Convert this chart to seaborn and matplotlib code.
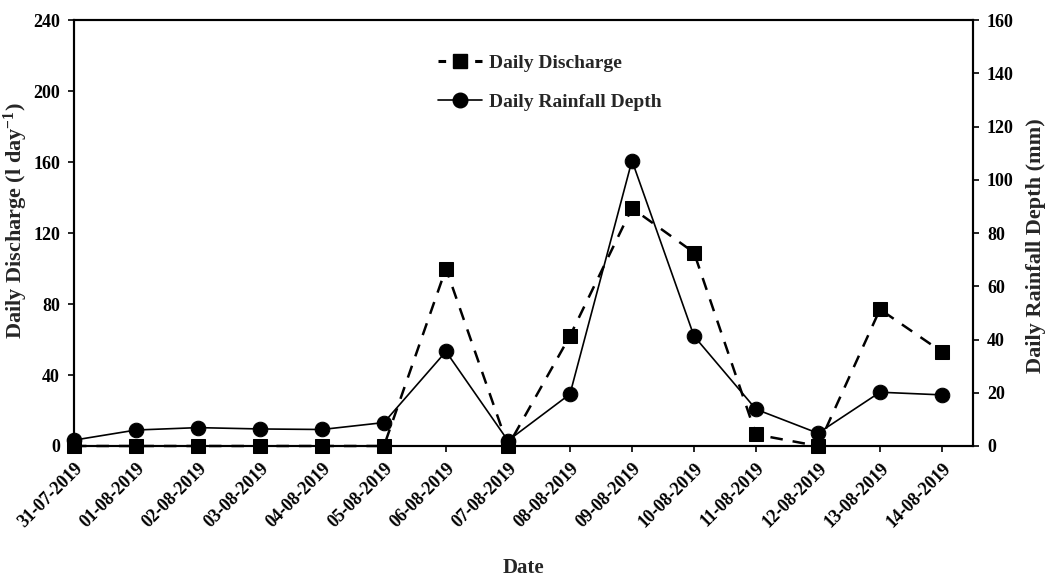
import numpy as np
import pandas as pd
import matplotlib
matplotlib.use("Agg")
import matplotlib.pyplot as plt
import seaborn as sns
from matplotlib.lines import Line2D

dates = ["31-07-2019", "01-08-2019", "02-08-2019", "03-08-2019", "04-08-2019",
         "05-08-2019", "06-08-2019", "07-08-2019", "08-08-2019", "09-08-2019",
         "10-08-2019", "11-08-2019", "12-08-2019", "13-08-2019", "14-08-2019"]
discharge = [0, 0, 0, 0, 0, 0, 100, 0, 62, 134, 109, 6.5, 0, 77, 53]
rainfall = [2.2, 6.0, 6.9, 6.4, 6.2, 8.8, 35.5, 2.0, 19.5, 107.2, 41.3, 13.8, 4.8, 20.2, 19.2]

df = pd.DataFrame({"idx": np.arange(len(dates)), "date": dates,
                   "discharge": discharge, "rainfall": rainfall})

sns.set_theme(style="ticks")
plt.rcParams["font.family"] = ["Liberation Serif", "DejaVu Serif"]
plt.rcParams["font.weight"] = "bold"
plt.rcParams["mathtext.default"] = "regular"

fig = plt.figure(figsize=(10.46, 5.76), dpi=100)
ax = fig.add_axes([0.0707, 0.2257, 0.8595, 0.7395])
ax2 = ax.twinx()

sns.lineplot(data=df, x="idx", y="discharge", ax=ax, color="black",
             marker="s", markersize=10.5, linestyle=(0, (5, 4)), linewidth=1.8,
             markeredgecolor="black", zorder=3, clip_on=False)
sns.lineplot(data=df, x="idx", y="rainfall", ax=ax2, color="black",
             marker="o", markersize=10.5, linestyle="-", linewidth=1.2,
             markeredgecolor="black", zorder=3, clip_on=False)

ax.set_xlim(0, 14.5)
ax.set_ylim(0, 240)
ax2.set_ylim(0, 160)
ax.set_yticks(np.arange(0, 241, 40))
ax2.set_yticks(np.arange(0, 161, 20))
ax.set_xticks(df["idx"])
ax.set_xticklabels(dates, rotation=45, ha="right", rotation_mode="anchor",
                   fontsize=11.5, fontweight="bold")

for a in (ax, ax2):
    for s in a.spines.values():
        s.set_color("black")
        s.set_linewidth(1.5)
    a.tick_params(axis="both", direction="out", length=4, width=1.2,
                  colors="black", labelsize=13, pad=6)
    for lbl in a.get_yticklabels():
        lbl.set_fontweight("bold")

ax.set_xlabel("Date", fontsize=15, fontweight="bold")
ax.set_ylabel("Daily Discharge (l day$^{-1}$)", fontsize=16, fontweight="bold")
ax2.set_ylabel("Daily Rainfall Depth (mm)", fontsize=16, fontweight="bold")
ax.xaxis.set_label_coords(0.5, -0.262)
ax.yaxis.set_label_coords(-0.049, 0.53)
ax2.yaxis.set_label_coords(1.059, 0.47)
ax.grid(False)
ax2.grid(False)

handles = [
    Line2D([], [], color="black", marker="s", markersize=10.5, linestyle=(0, (2.5, 3.5)), linewidth=2.2),
    Line2D([], [], color="black", marker="o", markersize=10.5, linestyle="-", linewidth=1.2),
]
leg = ax.legend(handles, ["Daily Discharge", "Daily Rainfall Depth"],
                loc="upper left", bbox_to_anchor=(0.385, 0.96), frameon=False,
                prop={"size": 14, "weight": "bold"}, handlelength=2.3,
                labelspacing=1.1, handletextpad=0.35)

fig.savefig("out.png", dpi=100)
